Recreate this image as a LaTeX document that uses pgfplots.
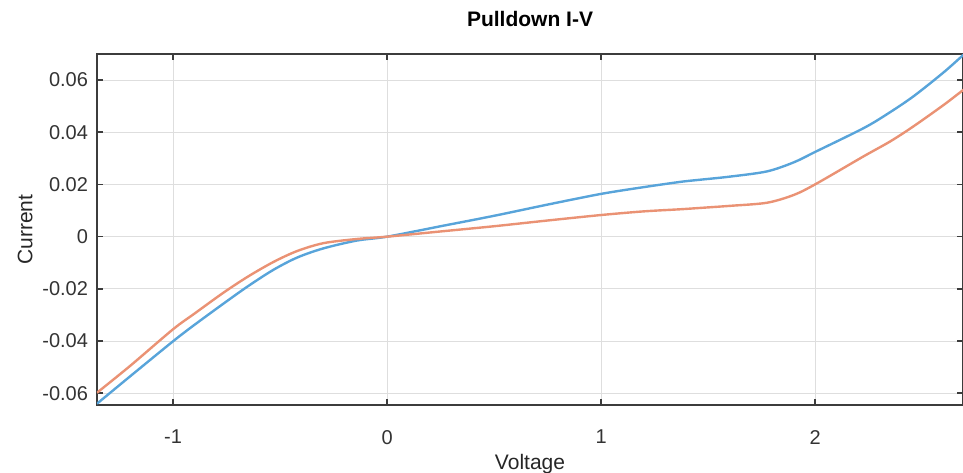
\documentclass[border=0pt]{standalone}
\usepackage{fontspec}
\setmainfont{Liberation Sans}
\usepackage{pgfplots}
\pgfplotsset{compat=1.18}
\definecolor{ivblue}{RGB}{88,164,218}
\definecolor{ivorange}{RGB}{234,146,116}
\definecolor{axgray}{RGB}{60,60,60}
\definecolor{gridgray}{RGB}{222,222,222}

\begin{document}
\begin{tikzpicture}
\begin{axis}[
    scale only axis,
    width=433pt, height=175.5pt,
    xmin=-1.355, xmax=2.69,
    ymin=-0.0645, ymax=0.0700,
    scaled y ticks=false,
    scaled x ticks=false,
    xtick={-1,0,1,2},
    xticklabels={-1,0,1,2},
    ytick={-0.06,-0.04,-0.02,0,0.02,0.04,0.06},
    yticklabels={-0.06,-0.04,-0.02,0,0.02,0.04,0.06},
    tick align=inside,
    major tick length=3pt,
    tick style={axgray, line width=0.8pt},
    axis line style={axgray, line width=1pt},
    grid=major,
    major grid style={gridgray, line width=0.5pt},
    tick label style={font=\fontsize{10}{12}\selectfont, text=black!80},
    xticklabel style={yshift=-9pt},
    yticklabel style={xshift=-1pt},
    xlabel={Voltage},
    ylabel={Current},
    label style={font=\fontsize{10.5}{12}\selectfont, text=black!85},
    xlabel style={yshift=2pt},
    ylabel style={yshift=-2pt},
    title={Pulldown I-V},
    title style={font=\bfseries\fontsize{10.5}{12}\selectfont, yshift=4pt},
    /pgf/number format/assume math mode=true,
]
% pulldown, typical
\addplot[color=ivblue, line width=1.2pt, smooth] coordinates {
    (-1.355,-0.0640) (-1.2,-0.0535) (-1.0,-0.0401) (-0.9,-0.0338)
    (-0.765,-0.0257) (-0.65,-0.0190) (-0.531,-0.0127) (-0.42,-0.0080)
    (-0.298,-0.0045) (-0.142,-0.0015) (0,0) (0.25,0.0040) (0.5,0.0080)
    (0.75,0.0123) (1.0,0.0164) (1.2,0.0190) (1.37,0.0210) (1.46,0.0218)
    (1.6,0.0230) (1.774,0.0250) (1.9,0.0285) (2.005,0.0327) (2.226,0.0416)
    (2.34,0.0472) (2.459,0.0538) (2.60,0.0630) (2.692,0.0697)
};
% pulldown, weak
\addplot[color=ivorange, line width=1.2pt, smooth] coordinates {
    (-1.355,-0.0598) (-1.2,-0.0495) (-1.0,-0.0355) (-0.9,-0.0295)
    (-0.765,-0.0215) (-0.65,-0.0153) (-0.531,-0.0097) (-0.42,-0.0055)
    (-0.298,-0.0025) (-0.142,-0.0009) (0,0) (0.25,0.0020) (0.5,0.0040)
    (0.75,0.0062) (1.0,0.0083) (1.2,0.0097) (1.37,0.0105) (1.46,0.0110)
    (1.6,0.0118) (1.774,0.0130) (1.9,0.0160) (2.005,0.0203) (2.226,0.0308)
    (2.35,0.0365) (2.459,0.0423) (2.60,0.0505) (2.692,0.0563)
};
\end{axis}
\pgfresetboundingbox
\path ([xshift=-48.5pt,yshift=-34pt]current axis.south west) rectangle ([yshift=27pt]current axis.north east);
\end{tikzpicture}
\end{document}
